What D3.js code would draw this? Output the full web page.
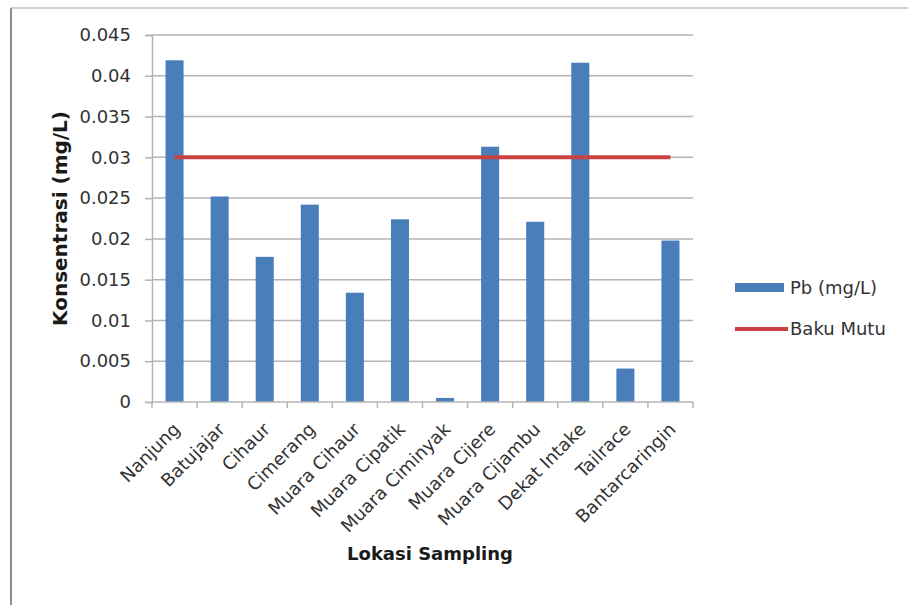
<!DOCTYPE html>
<html>
<head>
<meta charset="utf-8">
<script src="https://cdn.jsdelivr.net/npm/d3@7"></script>
<style>
  html, body { margin: 0; padding: 0; background: #fff; }
  svg { display: block; font-family: "DejaVu Sans", Verdana, sans-serif; }
</style>
</head>
<body>
<svg id="chart" width="908" height="605"></svg>
<script>
// Sampling locations along the river
const categories = ["Nanjung", "Batujajar", "Cihaur", "Cimerang", "Muara Cihaur", "Muara Cipatik",
  "Muara Ciminyak", "Muara Cijere", "Muara Cijambu", "Dekat Intake", "Tailrace", "Bantarcaringin"];
// Measured lead concentration (mg/L)
const pbValues = [0.0419, 0.0252, 0.0178, 0.0242, 0.0134, 0.0224, 0.0005, 0.0313, 0.0221, 0.0416, 0.0041, 0.0198];
// Quality standard threshold (mg/L)
const bakuMutu = [0.03, 0.03, 0.03, 0.03, 0.03, 0.03, 0.03, 0.03, 0.03, 0.03, 0.03, 0.03];
const yTicks = [0, 0.005, 0.01, 0.015, 0.02, 0.025, 0.03, 0.035, 0.04, 0.045];
const yTickLabels = ["0", "0.005", "0.01", "0.015", "0.02", "0.025", "0.03", "0.035", "0.04", "0.045"];
const seriesNames = ["Pb (mg/L)", "Baku Mutu"];

const svg = d3.select("#chart");
const plot = { left: 152, right: 693, top: 35, bottom: 402 };
const barColor = "#4a7ebb";
const lineColor = "#c8423f";
const gridColor = "#b4b4b4";
const textColor = "#333333";

// Chart frame
svg.append("line").attr("x1", 11).attr("x2", 11).attr("y1", 8).attr("y2", 605)
  .attr("stroke", "#8c8c8c").attr("stroke-width", 2);
svg.append("line").attr("x1", 11).attr("x2", 908).attr("y1", 8).attr("y2", 8)
  .attr("stroke", "#c0c0c0").attr("stroke-width", 1.5);

const x = d3.scaleBand().domain(categories).range([plot.left, plot.right])
  .paddingInner(0.6).paddingOuter(0.3);
const y = d3.scaleLinear().domain([0, 0.045]).range([plot.bottom, plot.top]);

// Horizontal gridlines
svg.append("g").selectAll("line").data(yTicks.slice(1)).join("line")
  .attr("x1", plot.left).attr("x2", plot.right)
  .attr("y1", d => y(d)).attr("y2", d => y(d))
  .attr("stroke", gridColor).attr("stroke-width", 1.5);

// Y axis
const yAxis = d3.axisLeft(y).tickValues(yTicks)
  .tickFormat((d, i) => yTickLabels[i]).tickSize(7).tickPadding(14);
const gy = svg.append("g").attr("transform", `translate(${plot.left},0)`).call(yAxis);
gy.select(".domain").attr("stroke", gridColor).attr("stroke-width", 1.5);
gy.selectAll(".tick line").attr("stroke", gridColor).attr("stroke-width", 1.5);
gy.selectAll(".tick text").attr("font-size", 18).attr("fill", textColor)
  .attr("font-family", "'DejaVu Sans', Verdana, sans-serif");

// Bars
svg.append("g").selectAll("rect").data(categories).join("rect")
  .attr("x", d => x(d))
  .attr("width", x.bandwidth())
  .attr("y", (d, i) => y(pbValues[i]))
  .attr("height", (d, i) => y(0) - y(pbValues[i]))
  .attr("fill", barColor);

// X axis
const step = x.step();
svg.append("line").attr("x1", plot.left).attr("x2", plot.right)
  .attr("y1", plot.bottom).attr("y2", plot.bottom)
  .attr("stroke", gridColor).attr("stroke-width", 1.5);
svg.append("g").selectAll("line").data(d3.range(categories.length + 1)).join("line")
  .attr("x1", i => plot.left + i * step).attr("x2", i => plot.left + i * step)
  .attr("y1", plot.bottom).attr("y2", plot.bottom + 6)
  .attr("stroke", gridColor).attr("stroke-width", 1.5);

// Category labels, rotated
svg.append("g").selectAll("text").data(categories).join("text")
  .attr("transform", d => `translate(${x(d) + x.bandwidth() / 2 + 2},${plot.bottom + 24}) rotate(-45)`)
  .attr("text-anchor", "end")
  .attr("dy", "0.35em")
  .attr("font-size", 18).attr("fill", textColor)
  .text(d => d);

// Threshold line
const line = d3.line().x(d => x(d[0]) + x.bandwidth() / 2).y(d => y(d[1]));
svg.append("path").datum(categories.map((c, i) => [c, bakuMutu[i]]))
  .attr("d", line).attr("fill", "none")
  .attr("stroke", lineColor).attr("stroke-width", 4);

// Axis titles
svg.append("text")
  .attr("transform", `translate(67,${(plot.top + plot.bottom) / 2}) rotate(-90)`)
  .attr("text-anchor", "middle").attr("font-size", 20).attr("font-weight", "bold")
  .attr("fill", "#1a1a1a").text("Konsentrasi (mg/L)");
svg.append("text")
  .attr("x", 430).attr("y", 560)
  .attr("text-anchor", "middle").attr("font-size", 18).attr("font-weight", "bold")
  .attr("fill", "#1a1a1a").text("Lokasi Sampling");

// Legend
const legend = svg.append("g").attr("transform", "translate(735,0)");
legend.append("rect").attr("x", 0).attr("y", 283).attr("width", 49).attr("height", 9).attr("fill", barColor);
legend.append("line").attr("x1", 0).attr("x2", 53).attr("y1", 329).attr("y2", 329)
  .attr("stroke", lineColor).attr("stroke-width", 4);
legend.selectAll("text").data(seriesNames).join("text")
  .attr("x", 55).attr("y", (d, i) => 288 + i * 41).attr("dy", "0.35em")
  .attr("font-size", 18).attr("fill", textColor).text(d => d);
</script>
</body>
</html>
